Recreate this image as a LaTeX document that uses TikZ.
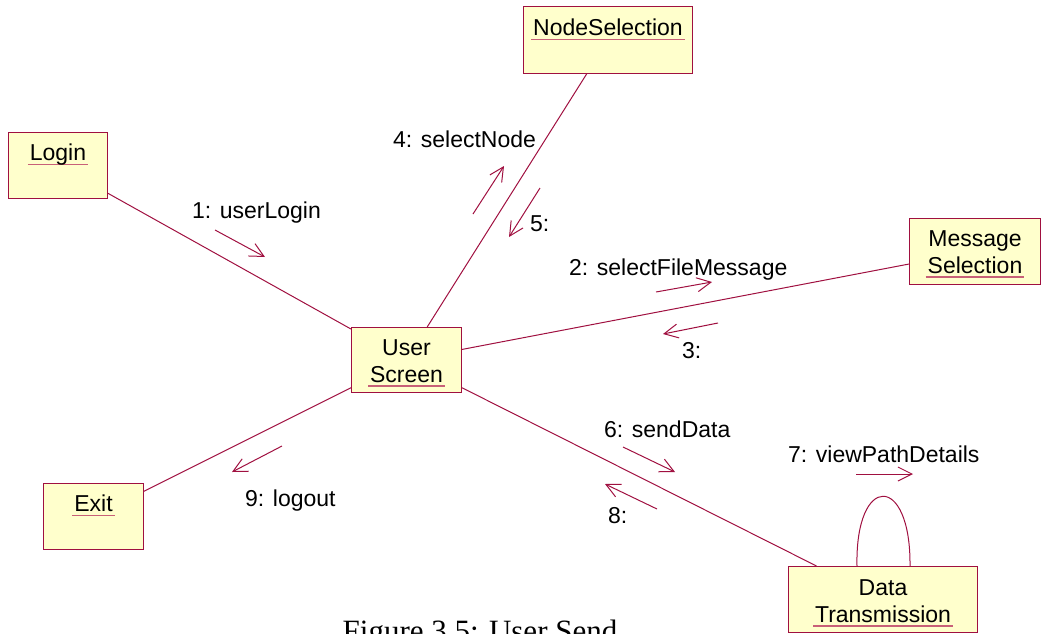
\documentclass[tikz,border=0pt]{standalone}
\usepackage{fontspec}
\setmainfont{Liberation Sans}
\newfontfamily\captionfont{Liberation Serif}
\usetikzlibrary{arrows.meta,calc}

\definecolor{umlline}{RGB}{160,16,64}
\definecolor{umlfill}{RGB}{255,255,204}
\definecolor{umlul}{RGB}{200,96,120}

% object names are underlined with a thin coloured rule just under the baseline
\newlength\ulwd
\newcommand\ulname[1]{\settowidth\ulwd{#1}\makebox[0pt][l]{\hspace*{-2pt}\textcolor{umlul}{\rule[-4.5pt]{\dimexpr\ulwd+4pt\relax}{1.2pt}}}#1}

\begin{document}
\begin{tikzpicture}[x=1pt,y=-1pt,
  obj/.style={draw=umlline, fill=umlfill, line width=1pt, inner sep=0pt, anchor=north west},
  objtext/.style={anchor=north, inner sep=0pt, align=center, font=\fontsize{23}{27}\selectfont},
  link/.style={draw=umlline, line width=1pt},
  msg/.style={draw=umlline, line width=1pt, -{Straight Barb[length=14pt,width=14pt]}},
  msglabel/.style={anchor=base west, inner sep=0pt, font=\fontsize{23}{27}\selectfont}]

\useasboundingbox (0,0) rectangle (1045,633);
\clip (0,0) rectangle (1045,633);

% objects
\node[obj, minimum width=169pt, minimum height=67pt] (nodesel) at (523,6) {};
\node[obj, minimum width=99pt,  minimum height=66pt] (login)   at (8,132) {};
\node[obj, minimum width=110pt, minimum height=65pt] (user)    at (351,327) {};
\node[obj, minimum width=131pt, minimum height=66pt] (msgsel)  at (909,218) {};
\node[obj, minimum width=100pt, minimum height=66pt] (exit)    at (43,483) {};
\node[obj, minimum width=189pt, minimum height=66pt] (data)    at (788,566) {};

\node[objtext] (nodeseltext) at ($(nodesel.north)+(0,13)$) {\ulname{NodeSelection}};
\node[objtext] (logintext)   at ($(login.north)+(0,12)$)   {\ulname{Login}};
\node[objtext] (usertext)    at ($(user.north)+(0,12)$)    {User\\\ulname{Screen}};
\node[objtext] (msgseltext)  at ($(msgsel.north)+(0,12)$)  {Message\\\ulname{Selection}};
\node[objtext] (exittext)    at ($(exit.north)+(0,12)$)    {\ulname{Exit}};
\node[objtext] (datatext)    at ($(data.north)+(0,13)$)    {Data\\\ulname{Transmission}};

% links
\draw[link] (login) -- (user);
\draw[link] (nodesel) -- (user);
\draw[link] (msgsel) -- (user);
\draw[link] (user) -- (exit);
\draw[link] (user) -- (data);
\draw[link] ($(data.north)+(-26,0)$) .. controls ($(data.north)+(-28,-93)$) and ($(data.north)+(28,-93)$) .. ($(data.north)+(27,0)$);

% messages
\coordinate (m1a) at (215,230); \coordinate (m1b) at (265,257);
\coordinate (m2a) at (656,292); \coordinate (m2b) at (712,282);
\coordinate (m3a) at (718,323); \coordinate (m3b) at (663,334);
\coordinate (m4a) at (473,214); \coordinate (m4b) at (504,166);
\coordinate (m5a) at (540,188); \coordinate (m5b) at (509,237);
\coordinate (m6a) at (623,447); \coordinate (m6b) at (675,472);
\coordinate (m7a) at (856,474); \coordinate (m7b) at (913,474);
\coordinate (m8a) at (657,509); \coordinate (m8b) at (605,484);
\coordinate (m9a) at (282,446); \coordinate (m9b) at (232,472);

\draw[msg] (m1a) -- (m1b);
\draw[msg] (m2a) -- (m2b);
\draw[msg] (m3a) -- (m3b);
\draw[msg] (m4a) -- (m4b);
\draw[msg] (m5a) -- (m5b);
\draw[msg] (m6a) -- (m6b);
\draw[msg] (m7a) -- (m7b);
\draw[msg] (m8a) -- (m8b);
\draw[msg] (m9a) -- (m9b);

\node[msglabel] (l1) at (192,218) {1: userLogin};
\node[msglabel] (l2) at (569,275) {2: selectFileMessage};
\node[msglabel] (l3) at (682,358) {3:};
\node[msglabel] (l4) at (393,147) {4: selectNode};
\node[msglabel] (l5) at (530,231) {5:};
\node[msglabel] (l6) at (604,437) {6: sendData};
\node[msglabel] (l7) at (788,462) {7: viewPathDetails};
\node[msglabel] (l8) at (608,523) {8:};
\node[msglabel] (l9) at (245,506) {9: logout};

% caption
\node[anchor=base, inner sep=0pt, font=\captionfont\fontsize{31}{36}\selectfont] (caption) at (480,641) {Figure 3.5: User Send};
\end{tikzpicture}
\end{document}
